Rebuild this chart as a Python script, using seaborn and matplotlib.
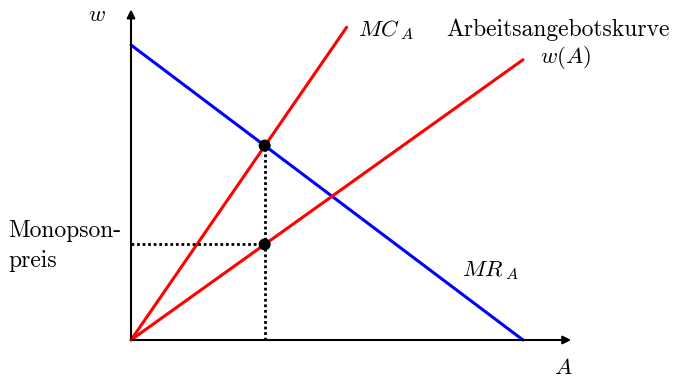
import pandas as pd
import matplotlib.pyplot as plt
import seaborn as sns

# curves (Arbeitsmenge A, Lohn w)
A_mr = [0, 10]
w_mr = [10, 0]
A_mc = [0, 5.5]
w_mc = [0, 10.6]
A_sup = [0, 10]
w_sup = [0, 9.5]

# optimum
A_opt = [3.41, 3.41]
w_opt = [6.59, 3.24]

sns.set_style('white')
plt.rcParams['mathtext.fontset'] = 'cm'
plt.rcParams['text.color'] = 'black'

fig = plt.figure(figsize=(6.74, 3.8), dpi=100)
ax = fig.add_axes([0, 0, 1, 1])

mr = pd.DataFrame({'A': A_mr, 'w': w_mr})
mc = pd.DataFrame({'A': A_mc, 'w': w_mc})
sup = pd.DataFrame({'A': A_sup, 'w': w_sup})
sns.lineplot(data=mr, x='A', y='w', color='#0000ff', lw=2.2, ax=ax)
sns.lineplot(data=mc, x='A', y='w', color='#ff0000', lw=2.2, ax=ax)
sns.lineplot(data=sup, x='A', y='w', color='#ff0000', lw=2.2, ax=ax)

# dotted helper lines
ax.plot([A_opt[0], A_opt[0]], [0, w_opt[0]], color='black', lw=2, ls=(0, (1, 1)))
ax.plot([0, A_opt[1]], [w_opt[1], w_opt[1]], color='black', lw=2, ls=(0, (1, 1)))

opt = pd.DataFrame({'A': A_opt, 'w': w_opt})
sns.scatterplot(data=opt, x='A', y='w', color='black', s=75, edgecolor='none', zorder=5, ax=ax)

# axes with arrows
ax.annotate('', xy=(11.3, 0), xytext=(-0.03, 0),
            arrowprops=dict(arrowstyle='-|>', color='black', lw=1.5, mutation_scale=12))
ax.annotate('', xy=(0, 11.3), xytext=(0, -0.03),
            arrowprops=dict(arrowstyle='-|>', color='black', lw=1.5, mutation_scale=12))

fs = 16.5
ax.text(-0.87, 11.02, '$w$', fontsize=fs, ha='center', va='center')
ax.text(11.02, -0.92, '$A$', fontsize=fs, ha='center', va='center')
ax.text(5.79, 10.5, '$MC_{\\;A}$', fontsize=fs, ha='left', va='center')
ax.text(13.75, 10.5, 'Arbeitsangebotskurve', fontsize=17, family='cmr10', ha='right', va='center')
ax.text(10.43, 9.56, '$w(A)$', fontsize=16.5, ha='left', va='center')
ax.text(8.44, 2.37, '$MR_{\\;A}$', fontsize=fs, ha='left', va='center')
ax.text(-3.14, 3.19, 'Monopson-\npreis', fontsize=17, family='cmr10', ha='left', va='center',
        linespacing=1.45)

ax.set_xlim(-3.342, 13.852)
ax.set_ylim(-1.356, 11.525)
ax.set_axis_off()

fig.savefig('out.png', dpi=100)
